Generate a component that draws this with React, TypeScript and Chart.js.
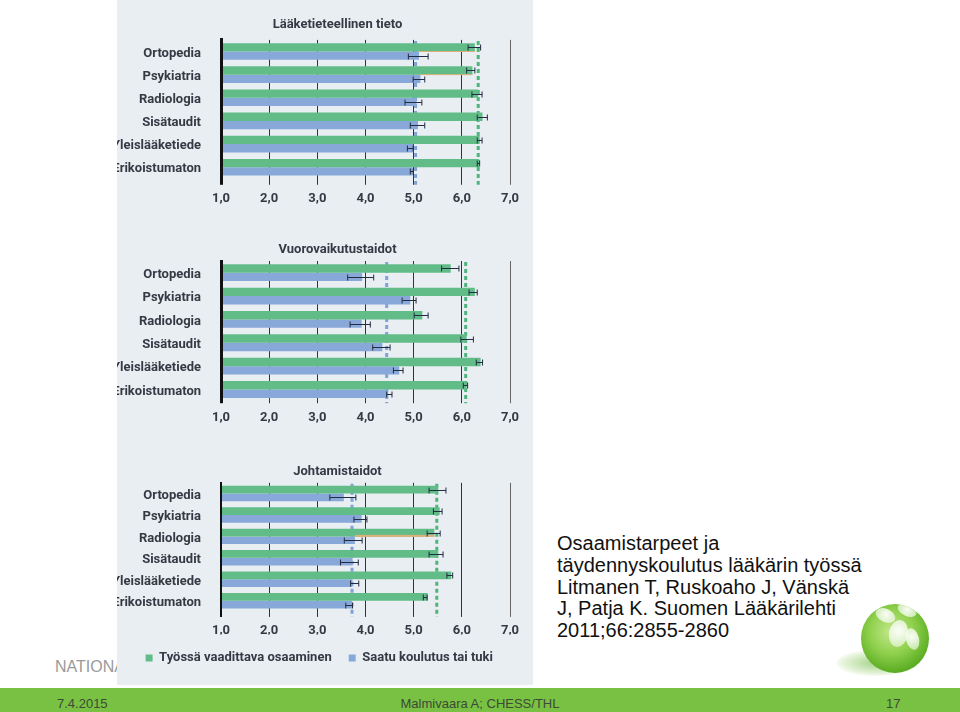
import React, { useEffect, useRef } from "react";
import { Chart, registerables } from "chart.js";

Chart.register(...registerables);

const categories = ["Ortopedia", "Psykiatria", "Radiologia", "Sisätaudit", "Yleislääketiede", "Erikoistumaton"];
const xTicks = [1, 2, 3, 4, 5, 6, 7];
const greenLabel = "Työssä vaadittava osaaminen";
const blueLabel = "Saatu koulutus tai tuki";

const medTitle = "Lääketieteellinen tieto";
const medGreen = [6.27, 6.22, 6.34, 6.43, 6.37, 6.36];
const medGreenLow = [6.13, 6.1, 6.21, 6.32, 6.32, 6.32];
const medGreenHigh = [6.39, 6.27, 6.42, 6.53, 6.42, 6.37];
const medBlue = [5.11, 5.14, 5.06, 5.09, 4.99, 4.98];
const medBlueLow = [4.89, 4.99, 4.82, 4.93, 4.87, 4.93];
const medBlueHigh = [5.3, 5.23, 5.17, 5.23, 4.99, 4.99];
const medRefs = [6.34, 5.04];
const medAccent = [0, 1];

const socTitle = "Vuorovaikutustaidot";
const socGreen = [5.77, 6.27, 5.18, 6.1, 6.39, 6.1];
const socGreenLow = [5.58, 6.15, 5.01, 5.98, 6.3, 6.03];
const socGreenHigh = [5.94, 6.32, 5.3, 6.24, 6.43, 6.12];
const socBlue = [3.93, 4.93, 3.92, 4.35, 4.7, 4.47];
const socBlueLow = [3.63, 4.76, 3.68, 4.15, 4.58, 4.44];
const socBlueHigh = [4.17, 5.05, 4.1, 4.51, 4.78, 4.55];
const socRefs = [6.08, 4.44];
const socAccent: number[] = [];

const leadTitle = "Johtamistaidot";
const leadGreen = [5.51, 5.54, 5.43, 5.51, 5.78, 5.29];
const leadGreenLow = [5.32, 5.41, 5.28, 5.32, 5.69, 5.2];
const leadGreenHigh = [5.67, 5.59, 5.55, 5.61, 5.81, 5.28];
const leadBlue = [3.55, 3.92, 3.78, 3.73, 3.73, 3.72];
const leadBlueLow = [3.26, 3.76, 3.56, 3.48, 3.69, 3.59];
const leadBlueHigh = [3.8, 4.03, 3.93, 3.85, 3.86, 3.73];
const leadRefs = [5.48, 3.72];
const leadAccent = [2];

const citation = [
  "Osaamistarpeet ja",
  "täydennyskoulutus lääkärin työssä",
  "Litmanen T, Ruskoaho J, Vänskä",
  "J, Patja K. Suomen Lääkärilehti",
  "2011;66:2855-2860",
];

const GREEN = "#62bc88";
const BLUE = "#88a8d9";
const INK = "#343a44";
const FONT = '"Liberation Sans Narrow", Roboto, sans-serif';

type PanelProps = {
  top: number;
  height: number;
  title: string;
  green: number[];
  greenLow: number[];
  greenHigh: number[];
  blue: number[];
  blueLow: number[];
  blueHigh: number[];
  refs: number[];
  accent: number[];
  accentWidth: number;
  titlePadTop: number;
  titlePadBottom: number;
  xHeight: number;
  tickLen: number;
  tickPad: number;
  axisWidth: number;
  legend: boolean;
};

const overlayPlugin = {
  id: "overlay",
  afterLayout(chart: any) {
    if (chart.titleBlock) {
      chart.titleBlock.left += 24;
      chart.titleBlock.right += 24;
    }
  },
  beforeDatasetsDraw(chart: any, _a: any, opts: any) {
    const { ctx, chartArea, scales } = chart;
    const colors = [GREEN, BLUE];
    ctx.save();
    opts.refs.forEach((v: number, i: number) => {
      const x = scales.x.getPixelForValue(v);
      ctx.strokeStyle = i === 0 ? "#4fb47e" : "#7fa2d8";
      ctx.lineWidth = 3;
      ctx.setLineDash([4, 3]);
      ctx.beginPath();
      ctx.moveTo(x, chartArea.top + 1);
      ctx.lineTo(x, chartArea.bottom + opts.tickLen);
      ctx.stroke();
    });
    ctx.restore();
    void colors;
  },
  afterDatasetsDraw(chart: any, _a: any, opts: any) {
    const { ctx, scales } = chart;
    ctx.save();
    const gm = chart.getDatasetMeta(0);
    opts.accent.forEach((i: number) => {
      const ds = chart.data.datasets;
      const x0 = scales.x.getPixelForValue(ds[1].data[i]);
      const x1 = scales.x.getPixelForValue(ds[0].data[i]);
      ctx.fillStyle = "#dcb078";
      ctx.fillRect(x0, gm.data[i].y + gm.data[i].height / 2 - opts.accentWidth + 0.5, x1 - x0, opts.accentWidth);
    });
    ctx.strokeStyle = "#232c42";
    ctx.lineWidth = 1;
    chart.data.datasets.forEach((ds: any, d: number) => {
      const meta = chart.getDatasetMeta(d);
      ds.low.forEach((lo: number, i: number) => {
        const y = Math.round(meta.data[i].y) + 0.5;
        const a = scales.x.getPixelForValue(lo);
        const b = scales.x.getPixelForValue(ds.high[i]);
        ctx.beginPath();
        ctx.moveTo(a, y);
        ctx.lineTo(b, y);
        ctx.moveTo(a, y - 3);
        ctx.lineTo(a, y + 3);
        ctx.moveTo(b, y - 3);
        ctx.lineTo(b, y + 3);
        ctx.stroke();
      });
    });
    ctx.restore();
  },
};

function Panel(p: PanelProps) {
  const ref = useRef<HTMLCanvasElement>(null);
  useEffect(() => {
    if (!ref.current) return;
    const chart = new Chart(ref.current, {
      type: "bar",
      plugins: [overlayPlugin as any],
      data: {
        labels: categories,
        datasets: [
          { label: greenLabel, data: p.green, backgroundColor: GREEN, low: p.greenLow, high: p.greenHigh } as any,
          { label: blueLabel, data: p.blue, backgroundColor: BLUE, low: p.blueLow, high: p.blueHigh } as any,
        ],
      },
      options: {
        indexAxis: "y",
        animation: false,
        responsive: false,
        datasets: { bar: { categoryPercentage: 0.72, barPercentage: 1 } },
        layout: { padding: { left: 0, right: 23, top: 0, bottom: p.legend ? 10.5 : 0 } },
        scales: {
          x: {
            type: "linear",
            min: xTicks[0],
            max: xTicks[xTicks.length - 1],
            afterFit: (s: any) => {
              s.height = p.xHeight;
            },
            afterBuildTicks: (s: any) => {
              s.ticks = xTicks.map((value) => ({ value }));
            },
            border: { display: false },
            grid: {
              tickLength: p.tickLen,
              color: (c: any) => (c.tick.value === 1 ? "#111" : c.tick.value === 7 ? "#666" : "#333"),
              tickColor: (c: any) => (c.tick.value === 1 ? "#111" : c.tick.value === 7 ? "#666" : "#333"),
              lineWidth: (c: any) => (c.tick.value === 1 ? p.axisWidth : 1),
              tickWidth: (c: any) => (c.tick.value === 1 ? p.axisWidth : 1),
            },
            ticks: {
              padding: p.tickPad,
              maxRotation: 0,
              autoSkip: false,
              color: INK,
              font: { family: FONT, size: 13, weight: "bold" },
              callback: (v: any) => Number(v).toFixed(1).replace(".", ","),
            },
          },
          y: {
            afterFit: (s: any) => {
              s.width = 104;
            },
            grid: { display: false, drawTicks: false },
            border: { color: "#111", width: p.axisWidth, z: 1 },
            ticks: {
              padding: 20,
              labelOffset: 2,
              color: INK,
              font: { family: FONT, size: 13, weight: "bold" },
            },
          },
        },
        plugins: {
          overlay: { refs: p.refs, accent: p.accent, accentWidth: p.accentWidth, tickLen: p.tickLen },
          tooltip: { enabled: false },
          title: {
            display: true,
            text: p.title,
            color: INK,
            font: { family: FONT, size: 13, weight: "bold", lineHeight: 1.2 },
            padding: { top: p.titlePadTop, bottom: p.titlePadBottom },
          },
          legend: {
            display: p.legend,
            position: "bottom",
            align: "end",
            labels: {
              boxWidth: 7,
              boxHeight: 7,
              padding: 17,
              color: INK,
              font: { family: FONT, size: 13, weight: "bold" },
            },
          },
        } as any,
      },
    } as any);
    return () => chart.destroy();
  }, []);
  return (
    <canvas
      ref={ref}
      width={416}
      height={p.height}
      style={{ position: "absolute", left: 117, top: p.top, width: 416, height: p.height }}
    />
  );
}

function Sphere() {
  const petal = (left: number, top: number, w: number, h: number, rot: number) => (
    <div
      style={{
        position: "absolute",
        left,
        top,
        width: w,
        height: h,
        borderRadius: "50%",
        transform: `rotate(${rot}deg)`,
        background: "radial-gradient(circle at 50% 40%, rgba(255,255,255,0.95), rgba(225,245,210,0.65))",
      }}
    />
  );
  return (
    <>
      <div
        style={{
          position: "absolute",
          left: 836,
          top: 650,
          width: 76,
          height: 26,
          borderRadius: "50%",
          background: "radial-gradient(ellipse at 55% 50%, rgba(130,195,90,0.75), rgba(190,225,160,0.35) 60%, rgba(255,255,255,0) 75%)",
        }}
      />
      <div
        style={{
          position: "absolute",
          left: 861,
          top: 604,
          width: 68,
          height: 69,
          borderRadius: "50%",
          overflow: "hidden",
          background: "radial-gradient(circle at 45% 40%, #c5e88f 0%, #8fd04c 40%, #5cae24 72%, #2f8a17 100%)",
        }}
      >
        {petal(14, 5, 21, 13, 25)}
        {petal(28, 16, 19, 27, 10)}
        {petal(45, 24, 13, 22, -15)}
        {petal(36, 1, 20, 11, 25)}
      </div>
    </>
  );
}

export default function App() {
  useEffect(() => {
    document.body.style.margin = "0";
  }, []);
  const sans = '"Liberation Sans", Arial, sans-serif';
  return (
    <div style={{ position: "absolute", left: 0, top: 0, width: 960, height: 712, background: "#fff", overflow: "hidden", fontFamily: sans }}>
      <div style={{ position: "absolute", left: 55, top: 658, fontSize: 16, color: "#9a9a9a", whiteSpace: "nowrap" }}>NATIONAL</div>
      <div style={{ position: "absolute", left: 117, top: 0, width: 416, height: 685, background: "#e9eef2" }} />
      <Panel
        top={0} height={220} title={medTitle}
        green={medGreen} greenLow={medGreenLow} greenHigh={medGreenHigh}
        blue={medBlue} blueLow={medBlueLow} blueHigh={medBlueHigh}
        refs={medRefs} accent={medAccent} accentWidth={1}
        titlePadTop={17.4} titlePadBottom={6.9} xHeight={41.2}
        tickLen={6} tickPad={5.7} axisWidth={3} legend={false}
      />
      <Panel
        top={230} height={200} title={socTitle}
        green={socGreen} greenLow={socGreenLow} greenHigh={socGreenHigh}
        blue={socBlue} blueLow={socBlueLow} blueHigh={socBlueHigh}
        refs={socRefs} accent={socAccent} accentWidth={1}
        titlePadTop={11.7} titlePadBottom={3.7} xHeight={28.8}
        tickLen={2} tickPad={7} axisWidth={3} legend={false}
      />
      <Panel
        top={455} height={230} title={leadTitle}
        green={leadGreen} greenLow={leadGreenLow} greenHigh={leadGreenHigh}
        blue={leadBlue} blueLow={leadBlueLow} blueHigh={leadBlueHigh}
        refs={leadRefs} accent={leadAccent} accentWidth={2}
        titlePadTop={7.4} titlePadBottom={3.4} xHeight={23.1}
        tickLen={5.5} tickPad={5.6} axisWidth={2} legend={true}
      />
      <div style={{ position: "absolute", left: 557, top: 533, fontSize: 20, lineHeight: "21.8px", color: "#111", whiteSpace: "nowrap" }}>
        {citation.map((line) => (
          <div key={line}>{line}</div>
        ))}
      </div>
      <Sphere />
      <div style={{ position: "absolute", left: 0, top: 688, width: 960, height: 24, background: "#79c143" }} />
      <div style={{ position: "absolute", left: 57, top: 696, fontSize: 13, color: "#3d4a36" }}>7.4.2015</div>
      <div style={{ position: "absolute", left: 280, width: 400, top: 696, fontSize: 13, color: "#3d4a36", textAlign: "center" }}>Malmivaara A; CHESS/THL</div>
      <div style={{ position: "absolute", left: 886, top: 696, fontSize: 13, color: "#3d4a36" }}>17</div>
    </div>
  );
}
